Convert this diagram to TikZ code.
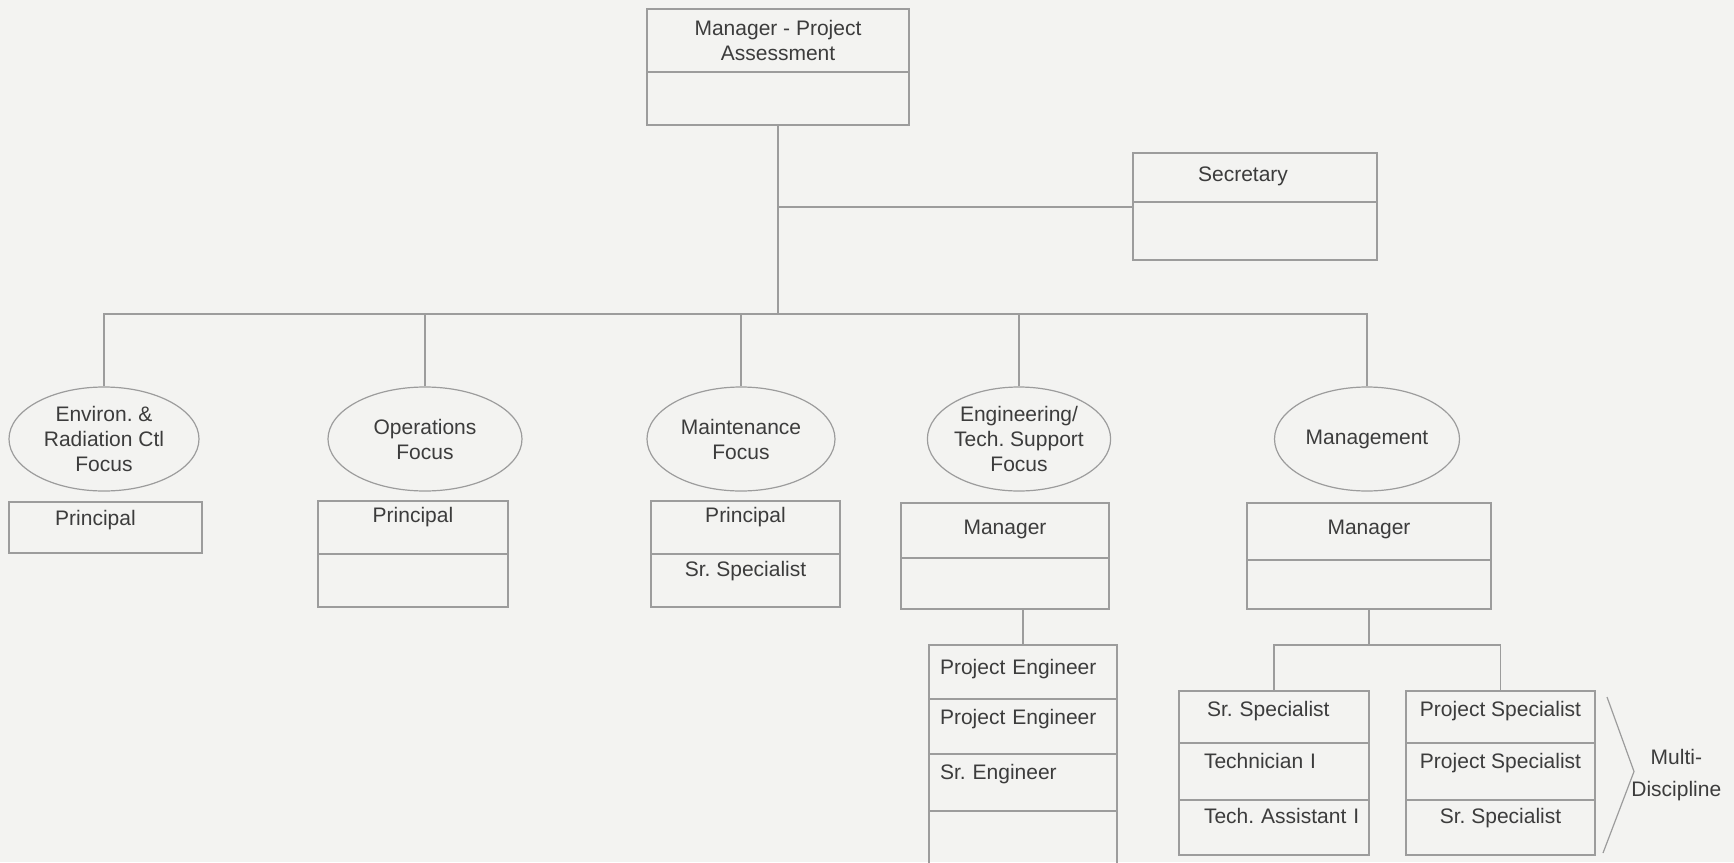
\documentclass[tikz,border=0pt]{standalone}
\usepackage{fontspec}
\setmainfont{Liberation Sans}
\frenchspacing
\usetikzlibrary{positioning,shapes.geometric}

\definecolor{bgcol}{HTML}{F3F3F1}
\definecolor{linecol}{HTML}{9C9C9C}
\definecolor{txtcol}{HTML}{3C3C3C}
\newcommand\chartfont{\fontsize{10.5}{12.5}\selectfont}

\tikzset{
	cell/.style={draw=linecol,line width=0.7pt,inner sep=0pt,outer sep=0pt,text=txtcol,font=\chartfont},
	slot/.style 2 args={text height=#1,text depth=#2},
	lcell/.style={cell,align=left,inner xsep=#1},
	focus/.style={draw=linecol,line width=0.6pt,ellipse,inner sep=0pt,minimum height=52pt,align=center,text=txtcol,font=\chartfont},
	wire/.style={draw=linecol,line width=0.7pt}
}

\begin{document}
\begin{tikzpicture}[x=0.5pt,y=-0.5pt]
	\useasboundingbox (0,0) rectangle (1734,862);
	\fill[bgcol] (0,0) rectangle (1734,862);

	% head of the group
	\node[cell,minimum width=131pt,minimum height=31.5pt,align=center] (mgr1) at (778,40.5) {Manager - Project\\Assessment};
	\node[cell,minimum width=131pt,minimum height=26.5pt,below=0pt of mgr1] (mgr2) {};
	\node[cell,minimum width=122pt,slot={14pt}{10.5pt}] (sec1) at (1255,177.5) {Secretary\hspace*{12pt}};
	\node[cell,minimum width=122pt,minimum height=29pt,below=0pt of sec1] (sec2) {};
	\coordinate (secj) at (778,207);
	\coordinate (bus) at (778,314);

	% focus areas
	\node[focus,minimum width=95pt] (env) at (104,439) {Environ. \&\\Radiation Ctl\\Focus};
	\node[focus,minimum width=97pt] (ops) at (425,439) {Operations\\Focus};
	\node[focus,minimum width=94pt] (mnt) at (741,439) {Maintenance\\Focus};
	\node[focus,minimum width=90pt] (eng) at (1019,439) {Engineering/\\Tech. Support\\Focus};
	\node[focus,minimum width=92.5pt] (mgt) at (1367,439) {Management};

	% positions under each focus
	\node[cell,minimum width=96.5pt,slot={11.5pt}{14pt}] (pA) at (105.5,527.5) {Principal\hspace*{10pt}};
	\node[cell,minimum width=95pt,slot={10.5pt}{16pt}] (pB1) at (413,527.5) {Principal};
	\node[cell,minimum width=95pt,minimum height=26.5pt,below=0pt of pB1] (pB2) {};
	\node[cell,minimum width=94.5pt,slot={10.5pt}{16pt}] (pC1) at (745.5,527.5) {Principal};
	\node[cell,minimum width=94.5pt,slot={11pt}{15.5pt},below=0pt of pC1] (pC2) {Sr. Specialist};
	\node[cell,minimum width=104pt,slot={15.5pt}{12pt}] (dm1) at (1005,530.5) {Manager};
	\node[cell,minimum width=104pt,minimum height=25.5pt,below=0pt of dm1] (dm2) {};
	\node[cell,minimum width=122pt,slot={15.5pt}{13pt}] (em1) at (1369,531.5) {Manager};
	\node[cell,minimum width=122pt,minimum height=24.5pt,below=0pt of em1] (em2) {};

	% engineering staff
	\node[lcell=5.5pt,text width=83pt,slot={14.5pt}{12.5pt}] (f1) at (1023,672) {Project Engineer};
	\node[lcell=5.5pt,text width=83pt,slot={12.5pt}{15pt},below=0pt of f1] (f2) {Project Engineer};
	\node[lcell=5.5pt,text width=83pt,slot={12.5pt}{16pt},below=0pt of f2] (f3) {Sr. Engineer};
	\node[lcell=5.5pt,text width=83pt,minimum height=30pt,below=0pt of f3] (f4) {};

	% management staff
	\node[lcell=2pt,text width=91pt,slot={12.5pt}{13.5pt}] (g1) at (1274,717) {\hspace*{12pt}Sr. Specialist};
	\node[lcell=2pt,text width=91pt,slot={12.5pt}{16pt},below=0pt of g1] (g2) {\hspace*{10.5pt}Technician I};
	\node[lcell=2pt,text width=91pt,slot={11.5pt}{16pt},below=0pt of g2] (g3) {\hspace*{10.5pt}Tech. Assistant I};
	\node[cell,minimum width=94.5pt,slot={12.5pt}{13.5pt}] (h1) at (1500.5,717) {Project Specialist};
	\node[cell,minimum width=94.5pt,slot={12.5pt}{16pt},below=0pt of h1] (h2) {Project Specialist};
	\node[cell,minimum width=94.5pt,slot={11.5pt}{16pt},below=0pt of h2] (h3) {Sr. Specialist};
	\coordinate (ej) at (1369,645);

	\node[right=18pt of h2.east,yshift=-2pt,align=center,inner sep=0pt,text=txtcol,font=\fontsize{10.5}{16}\selectfont] (multi) {Multi-\\Discipline};

	% connectors
	\draw[wire] (mgr2.south) -- (bus);
	\draw[wire] (secj) -- (secj -| sec1.west);
	\foreach \f in {env,ops,mnt,eng,mgt}
		\draw[wire] (\f.north) |- (bus);
	\draw[wire] (f1.north) -- (f1.north |- dm2.south);
	\draw[wire] (em2.south) -- (ej);
	\draw[wire] (g1.north) |- (ej);
	\draw[wire] (h1.north) |- (ej);
	\draw[draw=linecol,line width=0.6pt] ([xshift=6pt,yshift=-3pt]h1.north east) -- ([xshift=19.5pt]h2.east) -- ([xshift=4pt,yshift=1pt]h3.south east);
\end{tikzpicture}
\end{document}
